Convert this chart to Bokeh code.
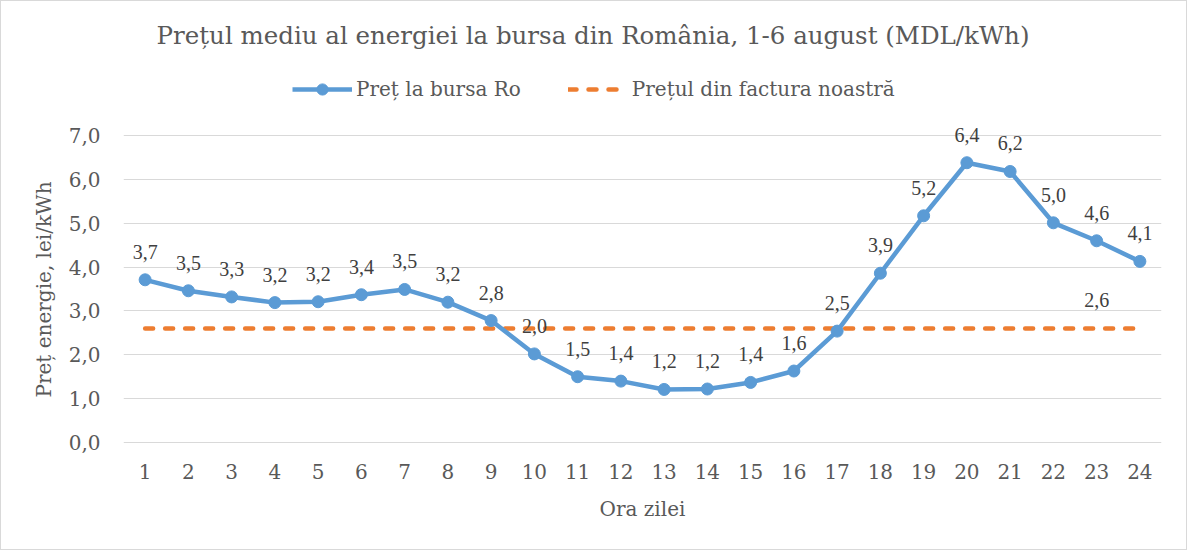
from bokeh.plotting import figure
from bokeh.layouts import column
from bokeh.models import (ColumnDataSource, FactorRange, Range1d, FixedTicker,
                          CustomJSTickFormatter, LabelSet, Legend, LegendItem)
from bokeh.core.properties import value
from bokeh.embed import file_html
from bokeh.resources import INLINE

#Data
hours = [str(h) for h in range(1, 25)]
pret_bursa = [3.71, 3.46, 3.32, 3.19, 3.21, 3.37, 3.49, 3.20, 2.78, 2.02, 1.50, 1.40,
              1.21, 1.22, 1.37, 1.63, 2.54, 3.86, 5.17, 6.38, 6.18, 5.01, 4.60, 4.13]
pret_factura = [2.6, 2.6, 2.6, 2.6, 2.6, 2.6, 2.6, 2.6, 2.6, 2.6, 2.6, 2.6,
                2.6, 2.6, 2.6, 2.6, 2.6, 2.6, 2.6, 2.6, 2.6, 2.6, 2.6, 2.6]
factura_label_hour = "23"
y_ticks = [0, 1, 2, 3, 4, 5, 6, 7]

title_text = "Prețul mediu al energiei la bursa din România, 1-6 august (MDL/kWh)"
series_names = ["Preț la bursa Ro", "Prețul din factura noastră"]

#Colors and fonts
BLUE = "#5B9BD5"
ORANGE = "#ED7D31"
GRID = "#D9D9D9"
TXT = "#595959"
LBL = "#404040"
FONT = "DejaVu Serif"

def fmt(v):
    return f"{v:.1f}".replace(".", ",")

#Layout (pixels)
W = 1185
HEAD_H = 120
LEFT = 122
RIGHT = 25

#Header figure: title + legend
##################################
# its frame gets aligned with the chart frame by the column
head = figure(width=W, height=HEAD_H, x_range=Range1d(LEFT, W - RIGHT),
              y_range=Range1d(HEAD_H, 0), x_axis_location=None, y_axis_location=None,
              output_backend="svg", toolbar_location=None, min_border=0)
head.outline_line_color = None
head.grid.grid_line_color = None
#title is centred on the whole picture, not on the plot area
head.text(x=[(W - 2) / 2], y=[34], text=[title_text], text_align="center",
          text_baseline="middle", text_font=value(FONT), text_font_size="24.5px",
          text_color=TXT)

#legend keys only (no data of their own)
dummy = ColumnDataSource(dict(x=[float("nan")], y=[float("nan")]))
k_line = head.line("x", "y", source=dummy, line_color=BLUE, line_width=4.5)
k_mark = head.scatter("x", "y", source=dummy, fill_color=BLUE, line_color=BLUE)
k_dash = head.line("x", "y", source=dummy, line_color=ORANGE, line_width=4.5,
                   line_dash="8 12", line_cap="round")
legend = Legend(items=[LegendItem(label=series_names[0], renderers=[k_line, k_mark]),
                       LegendItem(label=series_names[1], renderers=[k_dash])],
                orientation="horizontal", location=(291 - LEFT, 18),
                glyph_width=60, glyph_height=28, label_standoff=4, spacing=47,
                padding=0, margin=0, border_line_color=None,
                background_fill_alpha=0, label_text_font=FONT,
                label_text_font_size="20px", label_text_color=TXT,
                label_text_baseline="middle")
head.add_layout(legend)

#Main chart
##################################
src = ColumnDataSource(dict(h=hours, y=pret_bursa, lbl=[fmt(v) for v in pret_bursa]))
src_f = ColumnDataSource(dict(h=hours, y=pret_factura))
i = hours.index(factura_label_hour)
src_fl = ColumnDataSource(dict(h=[hours[i]], y=[pret_factura[i]], lbl=[fmt(pret_factura[i])]))

p = figure(width=W, height=428, x_range=FactorRange(*hours, range_padding=0),
           y_range=Range1d(-0.342, 7.32), output_backend="svg", toolbar_location=None,
           min_border_left=LEFT, min_border_right=RIGHT, min_border_top=0,
           min_border_bottom=92)
p.outline_line_color = None
p.background_fill_color = "white"
p.border_fill_color = "white"

p.line("h", "y", source=src_f, line_color=ORANGE, line_width=4.5,
       line_dash="8 12", line_cap="round")
p.line("h", "y", source=src, line_color=BLUE, line_width=4.5, line_join="round")
p.scatter("h", "y", source=src, size=12, fill_color=BLUE, line_color=BLUE)

#Data labels
for s in (src, src_fl):
    p.add_layout(LabelSet(x="h", y="y", text="lbl", source=s, y_offset=28,
                          text_align="center", text_baseline="middle",
                          text_font=FONT, text_font_size="20px", text_color=LBL))

#Axes
p.xgrid.grid_line_color = None
p.ygrid.grid_line_color = GRID
p.ygrid.grid_line_width = 1
p.yaxis.ticker = FixedTicker(ticks=y_ticks)
p.yaxis.formatter = CustomJSTickFormatter(code="return tick.toFixed(1).replace('.', ',')")
for ax in (p.xaxis[0], p.yaxis[0]):
    ax.axis_line_color = None
    ax.major_tick_line_color = None
    ax.minor_tick_line_color = None
    ax.major_label_text_font = FONT
    ax.major_label_text_font_size = "20px"
    ax.major_label_text_color = TXT
    ax.axis_label_text_font = FONT
    ax.axis_label_text_font_size = "20px"
    ax.axis_label_text_color = TXT
    ax.axis_label_text_font_style = "normal"
p.xaxis.axis_label = "Ora zilei"
p.yaxis.axis_label = "Preț energie, lei/kWh"
p.xaxis.major_label_standoff = 0
p.xaxis.axis_label_standoff = 15
p.yaxis.major_label_standoff = 17
p.yaxis.axis_label_standoff = 10

page = column(head, p, spacing=0, styles={"border": "1px solid #D9D9D9"})
open("out.html", "w").write(file_html(page, INLINE))
